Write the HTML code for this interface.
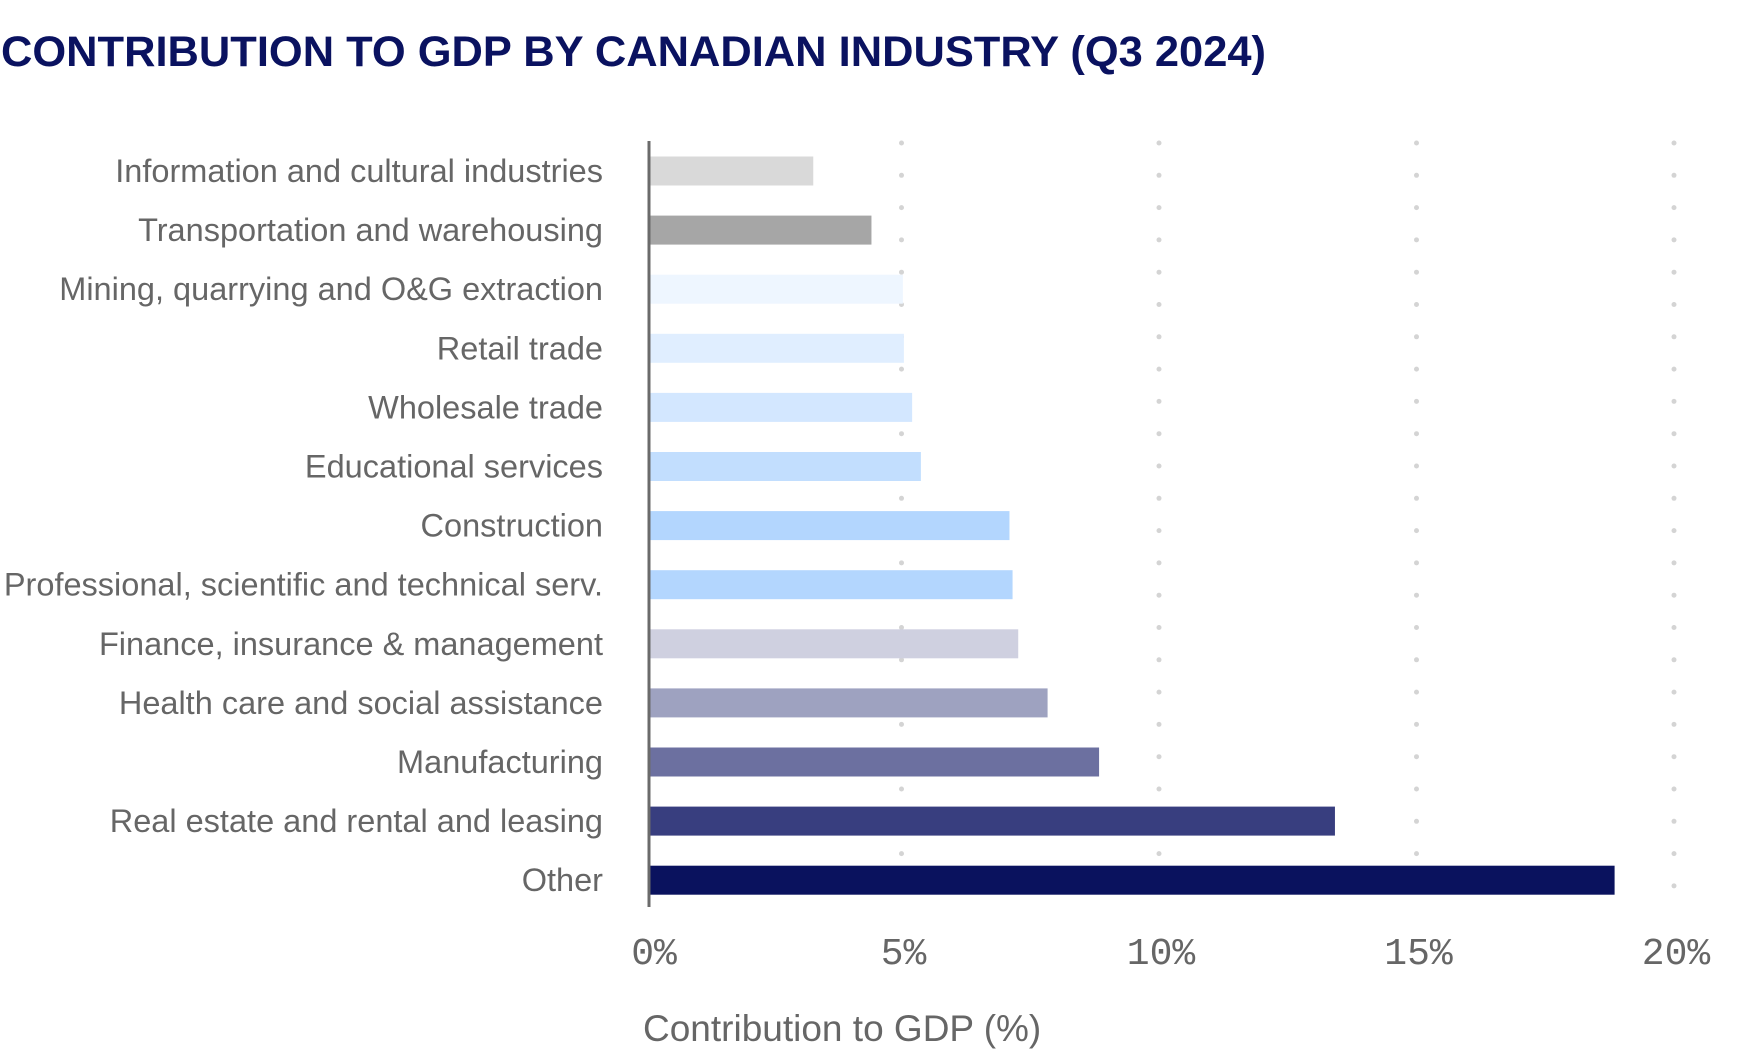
<!DOCTYPE html>
<html><head><meta charset="utf-8"><style>
html,body{margin:0;padding:0;background:#fff;}
svg{display:block;}
</style></head><body>
<svg id="chart" width="1755" height="1055" viewBox="0 0 1755 1055" xmlns="http://www.w3.org/2000/svg">
<text x="1" y="66" font-family="Liberation Sans, sans-serif" font-weight="bold" font-size="43" fill="#0a1260" textLength="1265" lengthAdjust="spacingAndGlyphs">CONTRIBUTION TO GDP BY CANADIAN INDUSTRY (Q3 2024)</text>
<g id="grid"></g>
<g id="bars"></g>
<g id="labels"></g>
<g id="ticks"></g>
<line x1="649" y1="141" x2="649" y2="907" stroke="#6b6b6b" stroke-width="3"/>
<text x="643" y="1041" font-family="Liberation Sans, sans-serif" font-size="37" fill="#666">Contribution to GDP (%)</text>
</svg>
<script>
const categories = ["Information and cultural industries","Transportation and warehousing","Mining, quarrying and O&G extraction","Retail trade","Wholesale trade","Educational services","Construction","Professional, scientific and technical serv.","Finance, insurance & management","Health care and social assistance","Manufacturing","Real estate and rental and leasing","Other"];
const values = [3.17, 4.30, 4.91, 4.93, 5.09, 5.26, 6.98, 7.04, 7.15, 7.72, 8.72, 13.3, 18.73];
const colors = ["#d9d9d9","#a6a6a6","#eef6ff","#e0eeff","#d3e7ff","#c2defe","#b3d6fe","#b3d6fe","#cfd0e0","#9ea2c0","#6c70a0","#383e7f","#0a125e"];
const tickValues = [0, 5, 10, 15, 20];
const tickLabels = ["0%","5%","10%","15%","20%"];

const NS = "http://www.w3.org/2000/svg";
const x0 = 650, x1 = 1680, xMax = 20;
function xs(v){ return x0 + (v / xMax) * (x1 - x0); }
const yTop = 171, step = 59.1, barH = 29;
function ys(i){ return yTop + i * step; }

const grid = document.getElementById('grid');
tickValues.forEach((t, k) => {
  if (t === 0) return;
  for (let y = 143; y <= 895; y += 32.3) {
    const c = document.createElementNS(NS, 'circle');
    c.setAttribute('cx', xs(t) - 6); c.setAttribute('cy', y); c.setAttribute('r', 2.5);
    c.setAttribute('fill', '#d4d4d4');
    
    
    grid.appendChild(c);
  }
});
const ticks = document.getElementById('ticks');
tickValues.forEach((t, k) => {
  const tx = document.createElementNS(NS, 'text');
  tx.setAttribute('x', xs(t) + (t === 0 ? 4 : -4)); tx.setAttribute('y', 964);
  tx.setAttribute('text-anchor', 'middle');
  tx.setAttribute('font-family', 'Liberation Mono, monospace');
  tx.setAttribute('font-size', '38'); tx.setAttribute('fill', '#666');
  tx.textContent = tickLabels[k];
  
  
  ticks.appendChild(tx);
});
const bars = document.getElementById('bars'), labels = document.getElementById('labels');
categories.forEach((c, i) => {
  const r = document.createElementNS(NS, 'rect');
  r.setAttribute('x', x0); r.setAttribute('y', ys(i) - barH / 2);
  r.setAttribute('width', xs(values[i]) - x0); r.setAttribute('height', barH);
  r.setAttribute('fill', colors[i]);
  
  
  bars.appendChild(r);
  const t = document.createElementNS(NS, 'text');
  t.setAttribute('x', 603); t.setAttribute('y', ys(i) + 11);
  t.setAttribute('text-anchor', 'end');
  t.setAttribute('font-family', 'Liberation Sans, sans-serif');
  t.setAttribute('font-size', '32.5'); t.setAttribute('fill', '#666');
  t.textContent = c;
  
  
  labels.appendChild(t);
});
</script>
</body></html>
